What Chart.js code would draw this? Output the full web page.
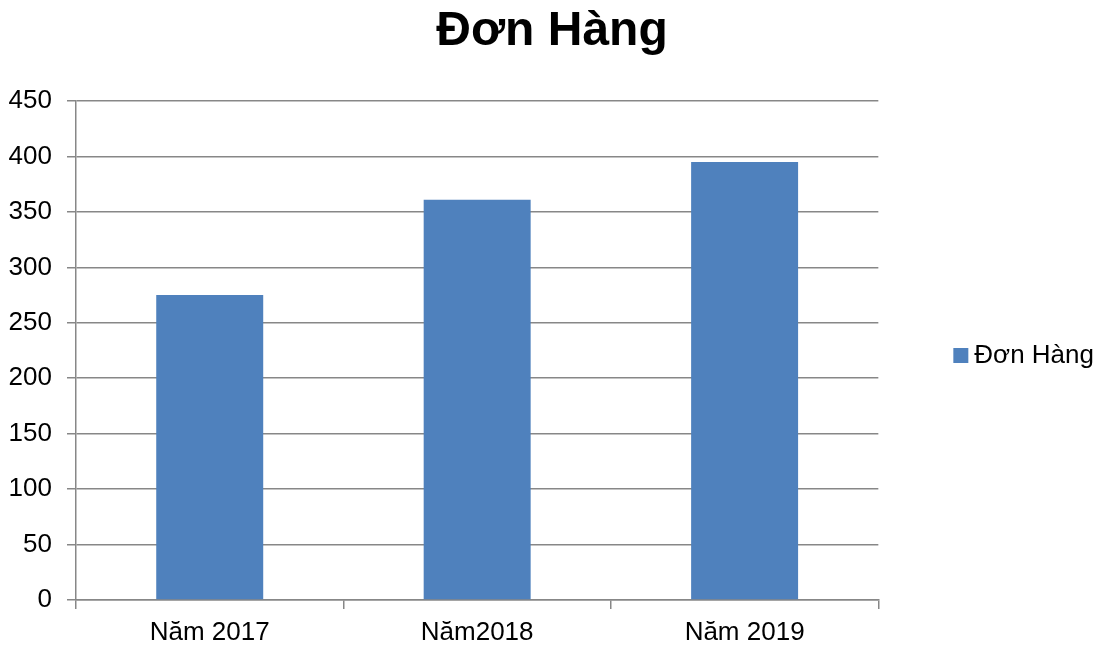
<!DOCTYPE html>
<html>
<head>
<meta charset="utf-8">
<script src="https://cdn.jsdelivr.net/npm/chart.js@4"></script>
<style>
  body { margin: 0; background: #fff; }
  #wrap { width: 1112px; height: 647px; }
</style>
</head>
<body>
<div id="wrap"><canvas id="c" width="1112" height="647"></canvas></div>
<script>
// data
const categories = ['Năm 2017', 'Năm2018', 'Năm 2019'];
const donHang = [275, 361, 395];
const seriesName = 'Đơn Hàng';
const chartTitle = 'Đơn Hàng';
const yMin = 0, yMax = 450, yStep = 50;

Chart.defaults.font.family = "'Liberation Sans', Arial, sans-serif";
Chart.defaults.color = '#000';

const gridCol = '#878787';

const ctx = document.getElementById('c').getContext('2d');
const myChart = new Chart(ctx, {
  type: 'bar',
  data: {
    labels: categories,
    datasets: [{
      label: seriesName,
      data: donHang,
      backgroundColor: '#4f81bd',
      borderWidth: 0,
      barPercentage: 0.4,
      categoryPercentage: 1
    }]
  },
  options: {
    responsive: false,
    animation: false,
    layout: { padding: { left: 0, right: 8, top: 0, bottom: 0 } },
    plugins: {
      title: {
        display: true,
        text: chartTitle,
        font: { size: 48, weight: 'bold' },
        color: '#000',
        padding: { top: 3, bottom: 40.4 }
      },
      legend: {
        position: 'right',
        fullSize: false,
        // empty title only pushes the entry down a little
        title: { display: true, text: '', font: { size: 5 }, padding: 2 },
        labels: {
          usePointStyle: true,
          pointStyle: 'rect',
          boxWidth: 1,
          boxHeight: 15,
          padding: 82,
          color: '#000',
          font: { size: 26 }
        }
      },
      tooltip: { enabled: false }
    },
    scales: {
      x: {
        offset: true,
        grid: {
          offset: true,
          drawOnChartArea: false,
          drawTicks: true,
          tickLength: 9,
          color: gridCol,
          lineWidth: 1.5
        },
        border: { display: true, color: gridCol, width: 1.5 },
        ticks: { font: { size: 26 }, color: '#000', padding: 8 },
        afterFit: (s) => { s.height = 47; }
      },
      y: {
        min: yMin,
        max: yMax,
        ticks: { stepSize: yStep, font: { size: 26 }, color: '#000', padding: 15 },
        grid: { color: gridCol, lineWidth: 1.5, tickLength: 9, drawTicks: true },
        border: { display: true, color: gridCol, width: 1.5 },
        afterFit: (s) => { s.width = 76; }
      }
    }
  }
});
</script>
</body>
</html>
